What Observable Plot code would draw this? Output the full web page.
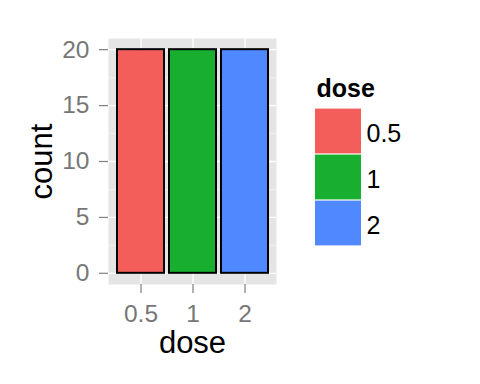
<!DOCTYPE html>
<html>
<head>
<meta charset="utf-8">
<script src="https://cdn.jsdelivr.net/npm/d3@7"></script>
<script src="https://cdn.jsdelivr.net/npm/@observablehq/plot@0.6"></script>
<style>
  html, body { margin: 0; padding: 0; background: white; }
  #wrap { position: relative; width: 480px; height: 384px; font-family: "Liberation Sans", Arial, Helvetica, sans-serif; }
  #legend { position: absolute; left: 315px; top: 70px; }
</style>
</head>
<body>
<div id="wrap"><div id="chart"></div><div id="legend"></div></div>
<script>
const doses = ["0.5", "1", "2"];
const counts = [20, 20, 20];
const colors = ["#F35E5A", "#18AE2F", "#5088FF"];
const yTicks = [0, 5, 10, 15, 20];
const yMinor = [2.5, 7.5, 12.5, 17.5];
const xTitle = "dose";
const yTitle = "count";
const legendTitle = "dose";

const data = doses.map((d, i) => ({dose: d, count: counts[i]}));
const font = "'Liberation Sans', Arial, Helvetica, sans-serif";

const chart = Plot.plot({
  width: 480,
  height: 384,
  marginLeft: 108,
  marginRight: 204,
  marginTop: 38,
  marginBottom: 100,
  style: {fontFamily: font, background: "white", overflow: "visible"},
  x: {domain: doses, paddingInner: 0.1, paddingOuter: 0.15, label: null},
  y: {domain: [-1, 21], label: null},
  color: {domain: doses, range: colors},
  marks: [
    Plot.frame({fill: "#E5E5E5", stroke: null}),
    Plot.ruleY(yMinor, {stroke: "#F2F2F2", strokeWidth: 0.8}),
    Plot.ruleY(yTicks, {stroke: "white", strokeWidth: 1.3}),
    Plot.ruleX(doses, {stroke: "white", strokeWidth: 1.3}),
    Plot.barY(data, {x: "dose", y: "count", fill: "dose", stroke: "black", strokeWidth: 2}),
    Plot.axisY({ticks: yTicks, tickSize: 9, tickPadding: 10, fontSize: 24.5, stroke: "#7F7F7F", fill: "#777777", strokeWidth: 1.2, label: null, tickFormat: d => String(d)}),
    Plot.axisX({tickSize: 9, tickPadding: 11, fontSize: 24.5, stroke: "#7F7F7F", fill: "#777777", strokeWidth: 1.2, label: null}),
    Plot.text([yTitle], {text: d => d, frameAnchor: "left", rotate: -90, dx: -66, fontSize: 31, textAnchor: "middle", lineAnchor: "middle", fill: "black"}),
    Plot.text([xTitle], {text: d => d, frameAnchor: "bottom", dy: 58.5, fontSize: 31, textAnchor: "middle", lineAnchor: "middle", fill: "black"})
  ]
});
document.getElementById("chart").appendChild(chart);

const legend = Plot.plot({
  width: 100,
  height: 176,
  marginLeft: 0,
  marginRight: 54,
  marginTop: 38,
  marginBottom: 0,
  style: {fontFamily: font, background: "transparent", overflow: "visible"},
  x: {domain: [0, 1], axis: null},
  y: {domain: doses, padding: 0, axis: null},
  color: {domain: doses, range: colors},
  marks: [
    Plot.barX(doses, {y: d => d, x1: 0, x2: 1, fill: d => d, insetTop: 0.6, insetBottom: 0.6}),
    Plot.text(doses, {y: d => d, text: d => d, frameAnchor: "right", dx: 5, dy: 2, textAnchor: "start", lineAnchor: "middle", fontSize: 25, fill: "black"}),
    Plot.text([legendTitle], {text: d => d, frameAnchor: "top-left", dx: 1, dy: -19.5, textAnchor: "start", lineAnchor: "middle", fontSize: 25, fontWeight: "bold", fill: "black"})
  ]
});
document.getElementById("legend").appendChild(legend);
</script>
</body>
</html>
